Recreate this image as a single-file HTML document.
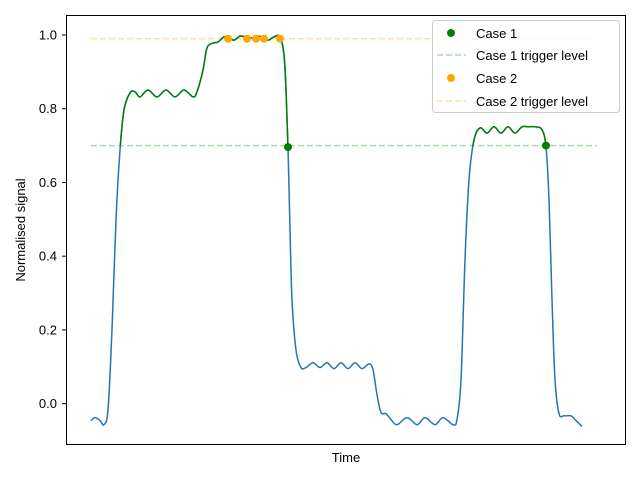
<!DOCTYPE html>
<html><head><meta charset="utf-8"><style>
body{margin:0;background:#fff;}
svg text{font-family:"Liberation Sans","DejaVu Sans",sans-serif;fill:#000;}
</style></head><body>
<svg id="chart" width="640" height="480">
<rect x="0" y="0" width="640" height="480" fill="#fff"/>
<defs><clipPath id="abovetrig"><rect id="cliprect" x="0" y="0" width="640" height="0"/></clipPath></defs>
<g id="plot"></g>
<rect x="66.5" y="15.5" width="559" height="429" fill="none" stroke="#000" stroke-width="1"/>
<g id="yticks"></g>
<text x="346" y="462" font-size="13" text-anchor="middle">Time</text>
<text x="25" y="230" font-size="13" text-anchor="middle" transform="rotate(-90 25 230)">Normalised signal</text>
<g>
<rect x="432.5" y="20.5" width="187" height="92" rx="3" fill="#fff" fill-opacity="0.8" stroke="#ccc"/>
<circle cx="451" cy="33" r="4" fill="green"/>
<text x="476" y="38" font-size="13">Case 1</text>
<line x1="437" y1="55" x2="466" y2="55" stroke="green" stroke-opacity="0.3" stroke-width="1.5" stroke-dasharray="6,3"/>
<text x="476" y="60" font-size="13">Case 1 trigger level</text>
<circle cx="451" cy="78" r="4" fill="orange"/>
<text x="476" y="83" font-size="13">Case 2</text>
<line x1="437" y1="101" x2="466" y2="101" stroke="orange" stroke-opacity="0.35" stroke-width="1.5" stroke-dasharray="6,3"/>
<text x="476" y="106" font-size="13">Case 2 trigger level</text>
</g>
</svg>
<script>
const signalTimes=[0,4,9,13,17,21,25,29,33,39,44,49,57,66,75,84,93,102,106,112,116,122,127,133,138,143,149,154,161,166,171,177,183,189,193,195,197,199,201,205,210,215,222,229,236,243,250,257,264,271,278,282,286,290,295,300,306,316,326,334,344,352,362,366,370,374,378,383,389,396,403,410,417,424,431,437,444,451,455,458,461,464,468,473,480,484,491];
const signalValues=[-0.046,-0.038,-0.046,-0.057,-0.016,0.201,0.499,0.688,0.797,0.843,0.846,0.832,0.851,0.832,0.851,0.832,0.851,0.832,0.846,0.905,0.965,0.978,0.981,0.995,0.992,0.986,0.997,0.995,0.992,0.997,0.995,0.986,0.995,0.995,0.946,0.851,0.696,0.472,0.282,0.146,0.098,0.098,0.111,0.098,0.111,0.095,0.111,0.095,0.111,0.095,0.108,0.092,0.024,-0.024,-0.027,-0.043,-0.057,-0.038,-0.057,-0.038,-0.057,-0.038,-0.057,-0.043,0.065,0.390,0.607,0.715,0.748,0.734,0.751,0.734,0.751,0.734,0.751,0.751,0.751,0.743,0.696,0.553,0.282,0.065,-0.027,-0.033,-0.033,-0.043,-0.062];
const case1Times=[197,455];
const case1Values=[0.696,0.70];
const case2Times=[137,156,165,173,189];
const case2Values=[0.99,0.99,0.99,0.99,0.99];
const trigger1=0.70, trigger2=0.99;
const yTicks=[0.0,0.2,0.4,0.6,0.8,1.0];
const yTickLabels=["0.0","0.2","0.4","0.6","0.8","1.0"];

const NS="http://www.w3.org/2000/svg";
const X0=66,X1=626,Y0=444,Y1=15;
const tmin=-25,tmax=535,vmin=-0.1095,vmax=1.0543;
function xs(t){return X0+(t-tmin)/(tmax-tmin)*(X1-X0);}
function ys(v){return Y0-(v-vmin)/(vmax-vmin)*(Y0-Y1);}
const plot=document.getElementById('plot');
function mk(tag,attrs,parent){const e=document.createElementNS(NS,tag);for(const k in attrs)e.setAttribute(k,attrs[k]);(parent||plot).appendChild(e);return e;}
function pathD(){
  const P=signalTimes.map((t,i)=>[xs(t),ys(signalValues[i])]);
  let d='M'+P[0][0]+','+P[0][1];
  for(let i=0;i<P.length-1;i++){
    const p0=P[Math.max(0,i-1)],p1=P[i],p2=P[i+1],p3=P[Math.min(P.length-1,i+2)];
    const c1=[p1[0]+(p2[0]-p0[0])/6,p1[1]+(p2[1]-p0[1])/6];
    const c2=[p2[0]-(p3[0]-p1[0])/6,p2[1]-(p3[1]-p1[1])/6];
    d+=' C'+c1+' '+c2+' '+p2;
  }
  return d;
}
const tEnd=signalTimes[signalTimes.length-1]+15;
const tl1=mk('line',{x1:xs(0),x2:xs(tEnd),y1:ys(trigger1),y2:ys(trigger1),stroke:'green','stroke-opacity':0.3,'stroke-width':1.5,'stroke-dasharray':'6,3'});


const tl2=mk('line',{x1:xs(0),x2:xs(tEnd),y1:ys(trigger2),y2:ys(trigger2),stroke:'orange','stroke-opacity':0.35,'stroke-width':1.5,'stroke-dasharray':'6,3'});


const d=pathD();
const sig=mk('path',{d:d,fill:'none',stroke:'#1f77b4','stroke-width':1.5});


document.getElementById('cliprect').setAttribute('height',ys(trigger1));
const hi=mk('path',{d:d,fill:'none',stroke:'green','stroke-width':1.5,'clip-path':'url(#abovetrig)'});


case1Times.forEach((t,i)=>{const c=mk('circle',{cx:xs(t),cy:ys(case1Values[i]),r:4,fill:'green'});

});
case2Times.forEach((t,i)=>{const c=mk('circle',{cx:xs(t),cy:ys(case2Values[i]),r:4,fill:'orange'});

});
const yt=document.getElementById('yticks');
yTicks.forEach((v,i)=>{const y=ys(v);
const l=mk('line',{x1:62,x2:66,y1:y,y2:y,stroke:'#000'},yt);


const tx=mk('text',{x:57,y:y+4.5,'font-size':13,'text-anchor':'end'},yt);tx.textContent=yTickLabels[i];

});
</script>
</body></html>
